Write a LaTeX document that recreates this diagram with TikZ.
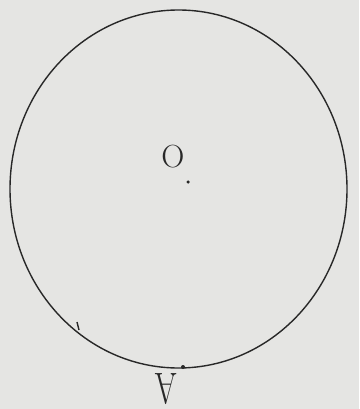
\documentclass[tikz,border=0pt]{standalone}
\usepackage{tikz}
\usetikzlibrary{positioning}
\definecolor{paper}{RGB}{229,229,227}
\definecolor{pencil}{RGB}{40,40,40}

\begin{document}
\begin{tikzpicture}[x=1pt, y=-1pt]
  \tikzset{pt/.style={circle, fill=pencil, inner sep=0pt, minimum size=4pt}}
  \tikzset{lbl/.style={font=\fontsize{32}{32}\selectfont, text=pencil, inner sep=0pt}}

  % sheet
  \fill[paper] (0,0) rectangle (359,409);
  \useasboundingbox (0,0) rectangle (359,409);

  % circle
  \draw[pencil, line width=1.4pt] (178.5,189) ellipse [x radius=168.5, y radius=179];

  % centre O
  \node[pt, minimum size=3.5pt] (ctr) at (188,182) {};
  \node[lbl] (olbl) at (173,157) {O};

  % point A on the rim
  \node[pt] (ptA) at (183,367) {};
  \node[lbl, rotate=180, xscale=0.75, font=\fontsize{44}{44}\selectfont] (albl) at (166,389) {A};

  % small tick on the left
  \coordinate (tk1) at (77,322);
  \coordinate (tk2) at (79,330);
  \draw[pencil, line width=1.4pt] (tk1) -- (tk2);
\end{tikzpicture}
\end{document}
